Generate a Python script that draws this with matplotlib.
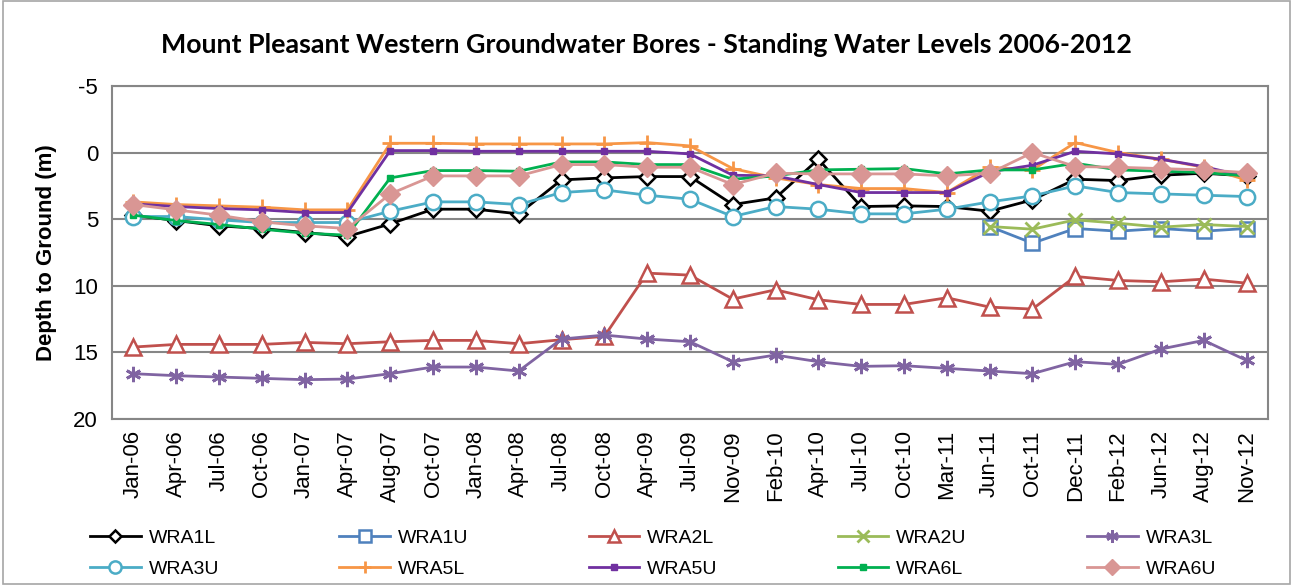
import matplotlib
matplotlib.use("Agg")
import matplotlib.pyplot as plt
from matplotlib.patches import Rectangle
import numpy as np

dates = ["Jan-06", "Apr-06", "Jul-06", "Oct-06", "Jan-07", "Apr-07", "Aug-07", "Oct-07",
         "Jan-08", "Apr-08", "Jul-08", "Oct-08", "Apr-09", "Jul-09", "Nov-09", "Feb-10",
         "Apr-10", "Jul-10", "Oct-10", "Mar-11", "Jun-11", "Oct-11", "Dec-11", "Feb-12",
         "Jun-12", "Aug-12", "Nov-12"]
nan = np.nan

wra1l = [4.7, 5.1, 5.5, 5.7, 6.0, 6.3, 5.35, 4.25, 4.25, 4.6, 2.05, 1.9, 1.8, 1.8, 3.9, 3.4,
         0.5, 4.05, 4.0, 4.05, 4.4, 3.55, 2.0, 2.1, 1.7, 1.55, 1.75]
wra1u = [nan] * 20 + [5.55, 6.8, 5.7, 5.9, 5.7, 5.9, 5.7]
wra2l = [14.6, 14.4, 14.4, 14.4, 14.25, 14.35, 14.2, 14.1, 14.1, 14.35, 14.05, 13.8, 9.05, 9.2,
         11.0, 10.3, 11.05, 11.4, 11.4, 10.9, 11.6, 11.75, 9.3, 9.6, 9.7, 9.5, 9.8]
wra2u = [nan] * 20 + [5.55, 5.75, 5.05, 5.3, 5.6, 5.4, 5.55]
wra3l = [16.6, 16.75, 16.85, 16.95, 17.05, 17.0, 16.6, 16.1, 16.1, 16.4, 14.0, 13.7, 14.0, 14.2,
         15.7, 15.2, 15.7, 16.05, 16.0, 16.2, 16.4, 16.6, 15.7, 15.9, 14.75, 14.1, 15.6]
wra3u = [4.8, 4.8, 5.05, 5.25, 5.25, 5.25, 4.4, 3.7, 3.7, 3.9, 3.0, 2.8, 3.2, 3.5, 4.8, 4.05,
         4.25, 4.6, 4.6, 4.25, 3.7, 3.25, 2.5, 3.0, 3.1, 3.2, 3.3]
wra5l = [3.7, 3.9, 4.0, 4.1, 4.3, 4.3, -0.7, -0.7, -0.65, -0.65, -0.65, -0.65, -0.75, -0.5,
         1.2, 1.9, 2.4, 2.7, 2.7, 3.0, 1.1, 1.3, -0.75, 0.0, 0.5, 1.1, 2.05]
wra5u = [3.85, 4.05, 4.2, 4.3, 4.5, 4.5, -0.15, -0.15, -0.1, -0.1, -0.1, -0.1, -0.1, 0.1,
         1.7, 1.75, 2.4, 3.0, 3.0, 3.0, 1.45, 0.95, -0.1, 0.1, 0.5, 1.05, 1.8]
wra6l = [4.7, 5.1, 5.4, 5.75, 6.05, 6.2, 1.9, 1.35, 1.35, 1.4, 0.7, 0.7, 0.9, 0.9, 2.0, 1.75,
         1.3, 1.25, 1.2, 1.6, 1.3, 1.3, 0.8, 1.3, 1.4, 1.5, 1.75]
wra6u = [3.9, 4.3, 4.7, 5.2, 5.5, 5.7, 3.1, 1.75, 1.75, 1.75, 0.9, 0.9, 1.1, 1.1, 2.4, 1.55,
         1.6, 1.6, 1.6, 1.75, 1.55, 0.0, 1.05, 1.1, 1.2, 1.3, 1.5]

star = (6, 2, 0)
series = [
    ("WRA1L", wra1l, "black", dict(marker="D", ms=8, mfc="white", mew=1.8)),
    ("WRA1U", wra1u, "#4F81BD", dict(marker="s", ms=10, mfc="white", mew=1.8)),
    ("WRA2L", wra2l, "#C0504D", dict(marker="^", ms=11, mfc="white", mew=1.8)),
    ("WRA2U", wra2u, "#9BBB59", dict(marker="x", ms=10, mew=2)),
    ("WRA3L", wra3l, "#8064A2", dict(marker=star, ms=11, mew=2)),
    ("WRA3U", wra3u, "#4BACC6", dict(marker="o", ms=11, mfc="white", mew=1.8)),
    ("WRA5L", wra5l, "#F79646", dict(marker="+", ms=11, mew=2)),
    ("WRA5U", wra5u, "#7030A0", dict(marker="s", ms=5)),
    ("WRA6L", wra6l, "#00B050", dict(marker="s", ms=5)),
    ("WRA6U", wra6u, "#D99694", dict(marker="D", ms=10)),
]

plt.rcParams['font.family'] = ['Liberation Sans', 'DejaVu Sans']
plt.rcParams['axes.unicode_minus'] = False
fig = plt.figure(figsize=(12.93, 5.85), dpi=100)
ax = fig.add_axes([0.0866, 0.2838, 0.894, 0.5692])

x = np.arange(len(dates))
handles = []
for name, vals, col, kw in series:
    h, = ax.plot(x, vals, color=col, lw=2, label=name, **kw)
    handles.append(h)

ax.set_xlim(-0.5, len(dates) - 0.5)
ax.set_ylim(20, -5)
ax.set_yticks([-5, 0, 5, 10, 15, 20])
ax.set_xticks(x)
ax.set_xticklabels(dates, rotation=90, fontsize=16)
ax.tick_params(axis='y', labelsize=16, length=0, pad=10)
ax.tick_params(axis='x', length=0, pad=8)
ax.grid(axis='y', color='#868686', lw=1.5)
ax.set_axisbelow(True)
for s in ax.spines.values():
    s.set_color('#868686')
    s.set_linewidth(1.5)

ax.set_ylabel("Depth to Ground (m)", fontsize=16, fontweight='bold', labelpad=12)
fig.text(0.5, 0.923, "Mount Pleasant Western Groundwater Bores - Standing Water Levels 2006-2012",
         ha='center', va='center', fontsize=19.3, fontweight='bold', family=['Lato', 'DejaVu Sans'])

# legend filled row by row, as in the original
order = [0, 5, 1, 6, 2, 7, 3, 8, 4, 9]
fig.legend([handles[i] for i in order], [series[i][0] for i in order],
           loc='center', bbox_to_anchor=(0.505, 0.054), ncol=5, frameon=False,
           fontsize=14, columnspacing=6.2, handlelength=2.6, handletextpad=0.4,
           labelspacing=0.7, markerscale=0.8)

fig.add_artist(Rectangle((0.002, 0.002), 0.996, 0.996, transform=fig.transFigure,
                         fill=False, edgecolor='#A6A6A6', lw=1.2))

fig.savefig("out.png", dpi=100)
